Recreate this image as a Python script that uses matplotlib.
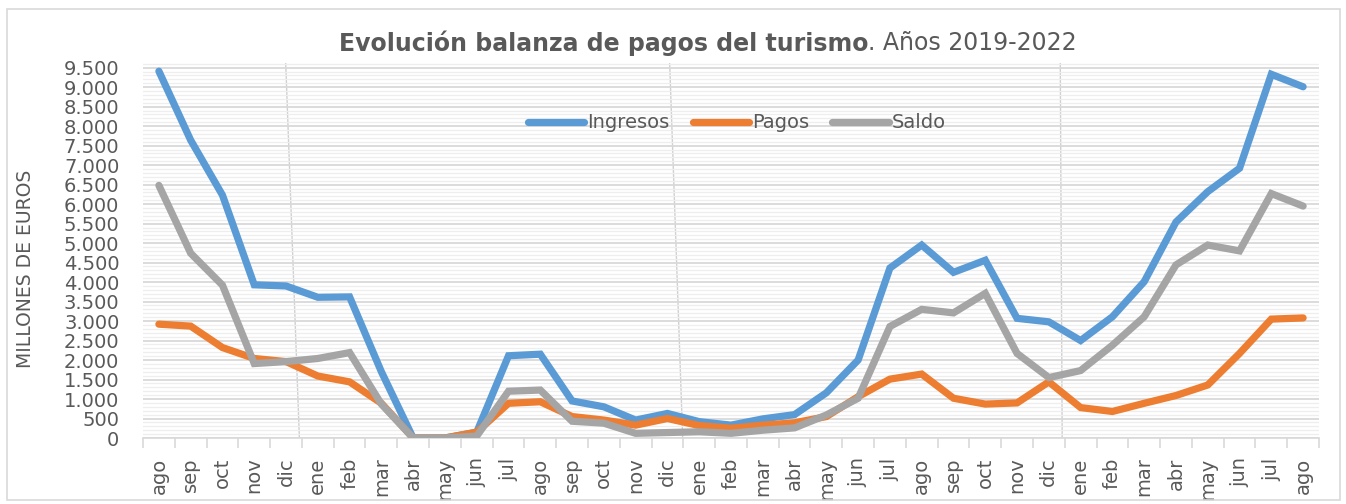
import matplotlib
matplotlib.use("Agg")
import matplotlib.pyplot as plt
from matplotlib.patches import Rectangle
from matplotlib.ticker import MultipleLocator, FuncFormatter

months = ["ago", "sep", "oct", "nov", "dic", "ene", "feb", "mar", "abr", "may", "jun", "jul",
          "ago", "sep", "oct", "nov", "dic", "ene", "feb", "mar", "abr", "may", "jun", "jul",
          "ago", "sep", "oct", "nov", "dic", "ene", "feb", "mar", "abr", "may", "jun", "jul", "ago"]

ingresos = [9410, 7640, 6230, 3930, 3900, 3610, 3620, 1700, 0, 0, 150, 2110,
            2150, 950, 800, 460, 630, 420, 330, 490, 600, 1160, 2000, 4360,
            4950, 4250, 4560, 3070, 2980, 2500, 3110, 4010, 5540, 6320, 6920, 9330, 9010]
pagos = [2920, 2870, 2320, 2040, 1960, 1590, 1440, 890, 0, 0, 150, 890,
         930, 550, 460, 330, 500, 320, 250, 330, 390, 550, 1060, 1510,
         1640, 1020, 870, 900, 1440, 780, 680, 890, 1090, 1360, 2170, 3050, 3080]
saldo = [6480, 4740, 3920, 1910, 1960, 2040, 2190, 870, 0, 0, 50, 1200,
         1230, 430, 380, 120, 140, 160, 120, 200, 260, 590, 1020, 2860,
         3300, 3210, 3710, 2170, 1550, 1730, 2380, 3110, 4440, 4950, 4800, 6270, 5950]

series_names = ["Ingresos", "Pagos", "Saldo"]
series_colors = ["#5B9BD5", "#ED7D31", "#A5A5A5"]

# year separators (decorative), as (x at top, x at bottom) in category units
separators = [(3.99, 4.42), (16.07, 16.48), (28.36, 28.42)]

W, H = 1346, 504
fig = plt.figure(figsize=(W / 100, H / 100), dpi=100)
fig.patch.set_facecolor("white")
fig.patches.append(Rectangle((7 / W, 4 / H), (1340 - 7) / W, (495 - 4) / H,
                             transform=fig.transFigure, fill=False,
                             edgecolor="#D9D9D9", linewidth=1.2))

ax = fig.add_axes([143 / W, (504 - 438) / H, (1319 - 143) / W, (438 - 63) / H])
x = list(range(len(months)))
for vals, name, col in zip([ingresos, pagos, saldo], series_names, series_colors):
    ax.plot(x, vals, color=col, linewidth=5.2, label=name,
            solid_capstyle="round", solid_joinstyle="miter", zorder=3)

ax.set_xlim(-0.5, len(months) - 0.5)
ax.set_ylim(0, 9620)

ax.yaxis.set_major_locator(MultipleLocator(500))
ax.yaxis.set_minor_locator(MultipleLocator(100))
ax.yaxis.set_major_formatter(FuncFormatter(lambda v, p: f"{int(v):,}".replace(",", ".")))
ax.grid(axis="y", which="major", color="#D9D9D9", linewidth=1.3, zorder=0)
ax.grid(axis="y", which="minor", color="#EEEEEE", linewidth=0.9, zorder=0)
ax.tick_params(axis="y", which="major", length=0, labelsize=14, labelcolor="#595959", pad=17)
ax.tick_params(axis="y", which="minor", length=0)

ax.set_xticks([i - 0.5 for i in range(len(months) + 1)])
ax.set_xticklabels([])
ax.set_xticks(x, minor=True)
ax.set_xticklabels(months, minor=True, rotation=90)
ax.tick_params(axis="x", which="major", length=7, color="#D9D9D9", width=1.2)
ax.tick_params(axis="x", which="minor", length=0, labelsize=14, labelcolor="#595959", pad=14)

for s in ["top", "right", "left"]:
    ax.spines[s].set_visible(False)
ax.spines["bottom"].set_color("#D9D9D9")
ax.spines["bottom"].set_linewidth(1.2)

for xt, xb in separators:
    ax.plot([xt, xb], [9620, 0], color="#D0D0D0", linewidth=1.0, zorder=1)

ax.set_ylabel("MILLONES DE EUROS", fontsize=13.5, color="#595959")
ax.yaxis.set_label_coords(-0.092, 0.45)

leg = ax.legend(loc="center", bbox_to_anchor=(0.505, 0.84), ncol=3, frameon=False,
                handlelength=2.9, handletextpad=0.15, columnspacing=1.2,
                prop={"family": "DejaVu Sans", "size": 14})
for t in leg.get_texts():
    t.set_color("#595959")

# title composed of bold and regular parts
fig.canvas.draw()
r = fig.canvas.get_renderer()
t1 = fig.text(0, 1 - 43 / H, "Evolución balanza de pagos del turismo", fontsize=17,
              fontweight="bold", color="#595959", va="center", ha="left")
t2 = fig.text(0, 1 - 43 / H, ". Años 2019-2022", fontsize=17, color="#595959",
              va="center", ha="left")
w1 = t1.get_window_extent(r).width
w2 = t2.get_window_extent(r).width
start = (708 - (w1 + w2) / 2)
t1.set_x(start / W)
t2.set_x((start + w1) / W)

fig.savefig("out.png", dpi=100)
